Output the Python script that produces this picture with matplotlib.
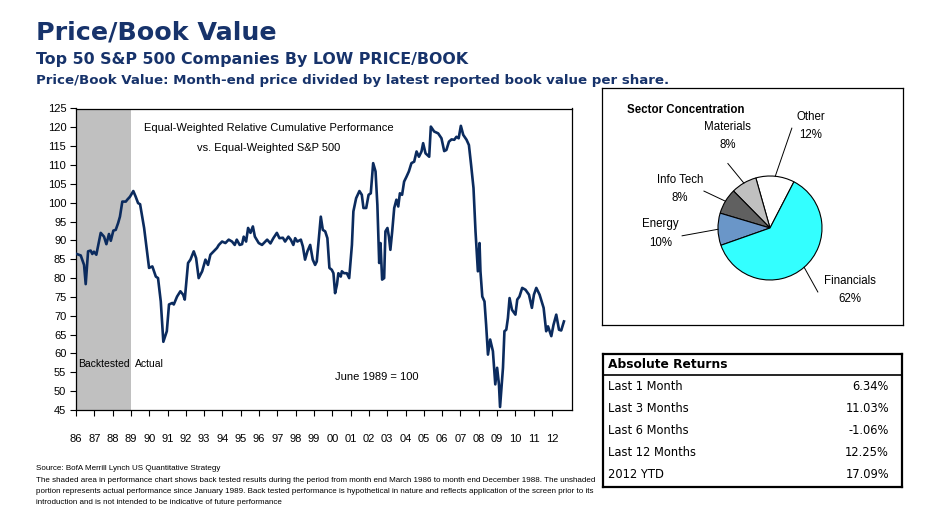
import matplotlib
matplotlib.use('Agg')
import matplotlib.pyplot as plt
import numpy as np

# relative cumulative performance, June 1989 = 100
years = [
    1986.04, 1986.26, 1986.44, 1986.53, 1986.66, 1986.80, 1986.89, 1986.98,
    1987.11, 1987.35, 1987.53, 1987.66, 1987.80, 1987.90, 1988.04, 1988.17,
    1988.30, 1988.40, 1988.53, 1988.72, 1988.80, 1988.95, 1989.13, 1989.26,
    1989.39, 1989.50, 1989.72, 1989.99, 1990.17, 1990.36, 1990.48, 1990.63,
    1990.77, 1990.96, 1991.08, 1991.26,
    1991.34, 1991.52, 1991.70, 1991.85, 1991.94, 1992.12, 1992.25, 1992.43,
    1992.56, 1992.70, 1992.89, 1993.07, 1993.21, 1993.34, 1993.52, 1993.70,
    1993.80, 1993.98, 1994.16, 1994.34, 1994.52, 1994.67, 1994.78, 1994.94,
    1995.07, 1995.16, 1995.29, 1995.40, 1995.53, 1995.66, 1995.77, 1995.98,
    1996.16, 1996.34, 1996.44,
    1996.62, 1996.78, 1996.97, 1997.11, 1997.30, 1997.42, 1997.60, 1997.73,
    1997.87, 1997.97, 1998.09, 1998.28, 1998.39, 1998.51, 1998.64, 1998.79,
    1998.93, 1999.06, 1999.15, 1999.30, 1999.37, 1999.48, 1999.61, 1999.73,
    1999.84, 1999.97, 2000.06, 2000.15, 2000.25, 2000.33, 2000.46, 2000.52,
    2000.64, 2000.79, 2000.92, 2001.07, 2001.15, 2001.30, 2001.48, 2001.61,
    2001.70, 2001.85, 2001.98,
    2002.10, 2002.23, 2002.36, 2002.46, 2002.56, 2002.63, 2002.72, 2002.83,
    2002.90, 2003.01, 2003.09, 2003.17, 2003.27, 2003.38, 2003.50, 2003.60,
    2003.69, 2003.81, 2003.92, 2004.05, 2004.18, 2004.32, 2004.47, 2004.60,
    2004.73, 2004.87, 2004.96, 2005.09, 2005.29, 2005.38, 2005.56, 2005.78,
    2005.96, 2006.11, 2006.23, 2006.37, 2006.51, 2006.66, 2006.78, 2006.90,
    2007.02, 2007.15, 2007.33,
    2007.46, 2007.58, 2007.71, 2007.82, 2007.95, 2008.04, 2008.09, 2008.19,
    2008.31, 2008.40, 2008.50, 2008.62, 2008.77, 2008.90, 2009.00, 2009.10,
    2009.16, 2009.32, 2009.40, 2009.50, 2009.59, 2009.68, 2009.81, 2010.00,
    2010.10, 2010.22, 2010.37, 2010.55, 2010.74, 2010.90, 2011.01, 2011.14,
    2011.32, 2011.54, 2011.68, 2011.78, 2011.96, 2012.08, 2012.23, 2012.38,
    2012.50, 2012.65,
]
values = [
    86.4, 86.0, 83.5, 78.4, 87.1, 87.3, 86.4, 87.0,
    86.2, 92.0, 91.0, 89.0, 91.7, 89.9, 92.6, 92.8,
    94.6, 96.3, 100.3, 100.3, 100.8, 101.6, 103.1, 101.6,
    99.9, 99.6, 93.3, 82.7, 83.1, 80.4, 80.0, 73.8,
    63.1, 65.9, 73.0, 73.4,
    73.0, 75.1, 76.5, 75.6, 74.3, 84.0, 84.9, 87.1,
    85.3, 80.0, 81.8, 84.9, 83.5, 86.2, 87.1, 88.0,
    88.8, 89.7, 89.3, 90.2, 89.7, 88.8, 90.2, 88.8,
    89.0, 91.0, 89.7, 93.3, 92.0, 93.7, 91.0, 89.3,
    88.8, 89.7, 90.2,
    89.2, 90.6, 92.0, 90.6, 90.7, 89.7, 91.0, 90.2,
    88.8, 90.6, 89.7, 90.2, 88.4, 84.9, 87.1, 88.8,
    84.9, 83.5, 84.4, 92.4, 96.3, 92.8, 92.4, 90.6,
    82.7, 82.2, 81.3, 76.0, 78.2, 81.3, 80.4, 81.8,
    81.3, 81.3, 80.0, 88.8, 97.7, 101.2, 103.1, 102.1,
    98.6, 98.6, 102.1,
    102.5, 110.5, 108.3, 99.4, 84.0, 89.3, 79.6, 80.0,
    92.4, 93.3, 91.0, 87.5, 92.4, 98.6, 100.8, 99.0,
    102.5, 102.1, 105.6, 106.9, 108.3, 110.5, 110.9, 113.6,
    112.2, 113.6, 115.8, 113.1, 112.2, 120.2, 118.9, 118.4,
    117.1, 113.7, 114.0, 116.2, 116.8, 116.7, 117.5, 117.1,
    120.4, 118.0, 116.7,
    115.3, 110.0, 103.9, 92.4, 81.8, 89.3, 81.8, 75.1,
    73.8, 67.6, 59.7, 63.7, 60.6, 51.8, 56.2, 51.8,
    45.8, 56.2, 65.9, 66.3, 69.4, 74.7, 71.6, 70.3,
    74.3, 75.1, 77.4, 76.9, 75.6, 72.1, 75.6, 77.4,
    75.6, 72.1, 65.9, 67.2, 64.6, 67.6, 70.3, 66.3,
    66.1, 68.5,
]
tick_years = list(range(1986, 2013))
tick_labels = [f"{y % 100:02d}" for y in tick_years]
backtest_span = (1986, 1989)

# sector pie
sectors = ['Other', 'Materials', 'Info Tech', 'Energy', 'Financials']
sector_pct = [12, 8, 8, 10, 62]
sector_colors = ['#FFFFFF', '#C0C0C0', '#606060', '#6A96C8', '#33FFFF']

# absolute returns table
ret_names = ['Last 1 Month', 'Last 3 Months', 'Last 6 Months',
             'Last 12 Months', '2012 YTD']
ret_values = [6.34, 11.03, -1.06, 12.25, 17.09]

NAVY = '#17336B'
LINE = '#0B2B5E'
W, H = 944, 509

fig = plt.figure(figsize=(W / 100, H / 100), dpi=100)
fig.patch.set_facecolor('white')


def fx(px):
    return px / W


def fy(py):
    return 1 - py / H


# header text
HF = 'DejaVu Sans'
fig.text(fx(36), fy(39), 'Price/Book Value', fontsize=18.3, color=NAVY,
         family=HF, weight='bold', va='baseline', ha='left')
fig.text(fx(36), fy(64), 'Top 50 S&P 500 Companies By LOW PRICE/BOOK',
         fontsize=11.4, color=NAVY, family=HF, weight='bold',
         va='baseline')
fig.text(fx(36), fy(84),
         'Price/Book Value: Month-end price divided by latest reported '
         'book value per share.',
         fontsize=9.6, color=NAVY, family=HF, weight='bold',
         va='baseline')

# line chart
AF = 'Liberation Sans'
ax = fig.add_axes([fx(76), fy(410), (572 - 76) / W, (410 - 108.5) / H])
ax.axvspan(*backtest_span, color='#C0C0C0', lw=0, zorder=0)
ax.plot(years, values, color=LINE, lw=1.9, zorder=3)
ax.set_xlim(1986, 2013.09)
ax.set_ylim(45, 125)
ax.set_yticks(np.arange(45, 126, 5))
ax.set_xticks(tick_years)
ax.set_xticklabels(tick_labels)
ax.tick_params(axis='both', direction='out', length=4.5, width=0.8,
               labelsize=8)
ax.tick_params(axis='x', pad=12.5)
ax.tick_params(axis='y', pad=2.5)
for lab in ax.get_xticklabels() + ax.get_yticklabels():
    lab.set_family(AF)
for sp in ax.spines.values():
    sp.set_linewidth(0.9)

ax.text(0.389, 0.935, 'Equal-Weighted Relative Cumulative Performance',
        transform=ax.transAxes, ha='center', va='center', fontsize=8,
        family=AF)
ax.text(0.389, 0.869, 'vs. Equal-Weighted S&P 500', transform=ax.transAxes,
        ha='center', va='center', fontsize=8, family=AF)
ax.text(0.004, 0.153, 'Backtested', transform=ax.transAxes, ha='left',
        va='center', fontsize=7.5, family=AF)
ax.text(0.119, 0.153, 'Actual', transform=ax.transAxes, ha='left',
        va='center', fontsize=7.5, family=AF)
ax.text(0.522, 0.109, 'June 1989 = 100', transform=ax.transAxes, ha='left',
        va='center', fontsize=8, family=AF)

# pie panel, one data unit = pie radius (52 px), centre at (770, 228)
R, CX, CY = 52, 770, 228
BX0, BX1, BY0, BY1 = 602, 903, 88, 325
axp = fig.add_axes([fx(BX0), fy(BY1), (BX1 - BX0) / W, (BY1 - BY0) / H])

wedges, _ = axp.pie(sector_pct, colors=sector_colors, startangle=62.6,
                    counterclock=True, radius=1, center=(0, 0),
                    wedgeprops=dict(edgecolor='black', linewidth=0.8))
axp.set_frame_on(True)
axp.set_xlim((BX0 - CX) / R, (BX1 - CX) / R)
axp.set_ylim((CY - BY1) / R, (CY - BY0) / R)
axp.set_aspect('equal')
axp.set_xticks([])
axp.set_yticks([])
for sp in axp.spines.values():
    sp.set_visible(True)
    sp.set_linewidth(0.9)
    sp.set_color('black')

label_pos = [(0.79, 1.96), (-0.81, 1.77), (-1.73, 0.75), (-2.10, -0.10),
             (1.54, -1.19)]
leader_end = [(0.42, 1.92), (-0.81, 1.24), (-1.27, 0.71), (-1.69, -0.15),
              (0.92, -1.23)]
for w, name, pct, lp, le in zip(wedges, sectors, sector_pct, label_pos,
                                leader_end):
    ang = np.deg2rad((w.theta1 + w.theta2) / 2)
    ex, ey = np.cos(ang), np.sin(ang)
    axp.plot([ex, le[0]], [ey, le[1]], color='black', lw=0.7)
    axp.text(lp[0], lp[1], f'{name}\n{pct}%', ha='center', va='center',
             fontsize=8.3, family=AF, linespacing=1.75)
axp.text((627 - CX) / R, (CY - 110) / R, 'Sector Concentration',
         ha='left', va='center', fontsize=8.3, weight='bold', family=AF)

# absolute returns table, drawn in pixel coordinates
TX0, TX1, TY0, TY1 = 603, 902, 354, 487
axt = fig.add_axes([fx(TX0), fy(TY1), (TX1 - TX0) / W, (TY1 - TY0) / H])
axt.set_xlim(TX0, TX1)
axt.set_ylim(TY1, TY0)
axt.set_xticks([])
axt.set_yticks([])
for sp in axt.spines.values():
    sp.set_linewidth(1.6)
axt.plot([TX0, TX1], [375, 375], color='black', lw=1.2)
axt.text(608, 364.5, 'Absolute Returns', ha='left', va='center',
         fontsize=8.8, weight='bold', family='DejaVu Sans')
for i, (nm, v) in enumerate(zip(ret_names, ret_values)):
    yy = 386 + 22 * i
    axt.text(608, yy, nm, ha='left', va='center', fontsize=8.3,
             family='DejaVu Sans')
    axt.text(889, yy, f'{v:.2f}%', ha='right', va='center', fontsize=8.3,
             family='DejaVu Sans')

# footnotes
FS = 5.75
fig.text(fx(36), fy(469), 'Source: BofA Merrill Lynch US Quantitative '
         'Strategy', fontsize=FS, family=AF, va='center')
notes = [
    'The shaded area in performance chart shows back tested results during '
    'the period from month end March 1986 to month end December 1988. '
    'The unshaded',
    'portion represents actual performance since January 1989. Back tested '
    'performance is hypothetical in nature and reflects application of the '
    'screen prior to its',
    'introduction and is not intended to be indicative of future performance',
]
for i, line in enumerate(notes):
    fig.text(fx(36), fy(480 + 11.3 * i), line, fontsize=FS, family=AF,
             va='center')

fig.savefig('out.png', dpi=100, facecolor='white')
